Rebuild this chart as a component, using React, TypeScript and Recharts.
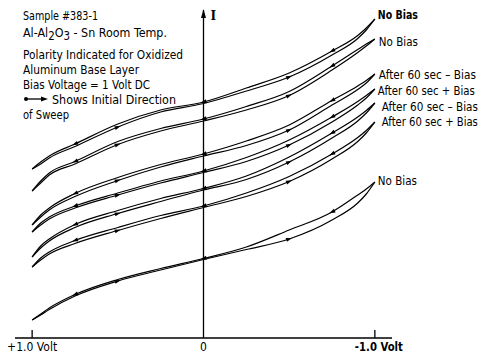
import React from 'react';
import { LineChart, Line, XAxis, YAxis, ReferenceLine } from 'recharts';

// Bias voltage (V), plotted with +1.0 V on the left
const volts = [1.0, 0.95, 0.9, 0.75, 0.5, 0.25, 0, -0.25, -0.5, -0.75, -0.9, -0.95, -1.0];

// Current (arbitrary, curves offset for display); each loop has two sweep branches
const c1a = [169, 176, 182, 194, 214, 228, 236, 250, 265, 287, 302.5, 310, 319];
const c1b = [169, 174, 180, 191.5, 211, 226, 234.5, 247, 261, 283, 299.5, 308, 319];
const c2a = [147, 157, 165, 176.5, 196.5, 209.5, 219, 231.5, 246.5, 272, 288.5, 294, 299];
const c2b = [147, 155, 163, 174, 193.5, 207, 217, 228, 242.5, 268, 285.5, 292, 299];
const c3a = [113, 123, 130, 144.5, 160.5, 173.5, 184, 197, 213, 237.5, 252, 257.5, 264];
const c3b = [113, 121, 128, 141.5, 157.5, 171, 182, 192.5, 208, 233, 248.5, 255, 264];
const c4a = [106, 115, 121, 132, 145, 157, 167, 180.5, 198, 221, 236.5, 242.5, 249];
const c4b = [106, 113, 119, 130, 143, 155, 165.5, 176.5, 193, 216, 233, 240, 249];
const c5a = [81, 92, 99, 113.5, 127.5, 139.5, 149.5, 162, 181, 205, 221, 227.5, 235];
const c5b = [81, 90, 97, 110.5, 124.5, 136.5, 148, 158.5, 176, 200, 217, 225, 235];
const c6a = [71, 80, 86, 97.5, 110.5, 122.5, 132, 145, 161.5, 184, 200.5, 207.5, 216];
const c6b = [71, 78, 84, 94.5, 107.5, 119.5, 130.5, 141.5, 156.5, 179, 196.5, 205, 216];
const c7a = [18, 24, 30, 43.5, 58.5, 69.5, 79.5, 91, 108, 126, 143, 149, 156];
const c7b = [18, 23, 28.5, 42, 57, 68, 78.5, 88.5, 99, 118, 135, 144, 156];

const curveLabels = [
  'No Bias',
  'No Bias',
  'After 60 sec \u2013 Bias',
  'After 60 sec + Bias',
  'After 60 sec \u2013 Bias',
  'After 60 sec + Bias',
  'No Bias',
];

const xTicks = [1, 0, -1];
const xTickLabels = ['+1.0 Volt', '0', '-1.0 Volt'];

const noteLines = [
  'Sample #383-1',
  'Al-Al2O3 - Sn Room Temp.',
  'Polarity Indicated for Oxidized',
  'Aluminum Base Layer',
  'Bias Voltage = 1 Volt DC',
  'Shows Initial Direction',
  'of Sweep',
];

const branches: { key: string; vals: number[]; curve: number; upper: boolean }[] = [
  { key: 'c1a', vals: c1a, curve: 0, upper: true },
  { key: 'c1b', vals: c1b, curve: 0, upper: false },
  { key: 'c2a', vals: c2a, curve: 1, upper: true },
  { key: 'c2b', vals: c2b, curve: 1, upper: false },
  { key: 'c3a', vals: c3a, curve: 2, upper: true },
  { key: 'c3b', vals: c3b, curve: 2, upper: false },
  { key: 'c4a', vals: c4a, curve: 3, upper: true },
  { key: 'c4b', vals: c4b, curve: 3, upper: false },
  { key: 'c5a', vals: c5a, curve: 4, upper: true },
  { key: 'c5b', vals: c5b, curve: 4, upper: false },
  { key: 'c6a', vals: c6a, curve: 5, upper: true },
  { key: 'c6b', vals: c6b, curve: 5, upper: false },
  { key: 'c7a', vals: c7a, curve: 6, upper: true },
  { key: 'c7b', vals: c7b, curve: 6, upper: false },
];

const data = volts.map((v, i) => {
  const row: Record<string, number> = { v };
  branches.forEach((b) => {
    row[b.key] = b.vals[i];
  });
  return row;
});

const FONT = "'DejaVu Sans Condensed', 'DejaVu Sans', sans-serif";
const W = 484;
const H = 354;
const M = { top: 10, right: 92, left: 15, bottom: 0 };
const XPX = (W - M.left - M.right) / 2.2; // px per volt (for arrow angle)

const labelOffsets: [number, number][] = [
  [3, -4], [4, 3], [4, 1], [3, 2], [7, 4], [7, 0], [3, -1],
];
const labelWidths = [40, 39, 97, 97, 96, 96, 39];
const SX = 0.75;

const arrowIdxUpper = [3, 6, 9];
const arrowIdxLower = [4, 8];

function makeDot(b: { key: string; vals: number[]; upper: boolean }) {
  return (p: any) => {
    const i = p.index;
    const list = b.upper ? arrowIdxUpper : arrowIdxLower;
    if (!list.includes(i) || p.cx == null || p.cy == null) return <g key={`d-${b.key}-${i}`} />;
    const dxp = (volts[i - 1] - volts[i + 1]) * XPX;
    const dyp = -(b.vals[i + 1] - b.vals[i - 1]);
    let ang = (Math.atan2(dyp, dxp) * 180) / Math.PI;
    if (b.upper) ang += 180;
    return (
      <polygon
        key={`d-${b.key}-${i}`}
        points="3,0 -3,-2 -3,2"
        fill="#000"
        transform={`translate(${p.cx},${p.cy}) rotate(${ang})`}
      />
    );
  };
}

function makeLabel(curve: number, bold: boolean) {
  return (p: any) => {
    if (p.index !== volts.length - 1) return <g key={`l-${curve}-${p.index}`} />;
    const [dx, dy] = labelOffsets[curve];
    return (
      <g key={`l-${curve}`} transform={`translate(${p.x + dx},${p.y + dy}) scale(${SX},1)`}>
        <text
          x={0}
          y={0}
          dominantBaseline="central"
          fontFamily={FONT}
          fontSize={12.5}
          fontWeight={bold ? 700 : 400}
          fill="#000"
          textLength={labelWidths[curve] / SX}
          lengthAdjust="spacingAndGlyphs"
        >
          {curveLabels[curve]}
        </text>
      </g>
    );
  };
}

const tickWidths = [50, 8, 48];

const XTick = (p: any) => {
  const idx = xTicks.indexOf(p.payload.value);
  const shift = idx === 2 ? 4 : 0;
  return (
    <g>
      {idx !== 1 && <line x1={p.x} x2={p.x} y1={p.y - 8} y2={p.y} stroke="#000" strokeWidth={1.3} />}
      <text
        x={p.x + shift}
        y={p.y + 9}
        textAnchor="middle"
        dominantBaseline="central"
        fontFamily={FONT}
        fontSize={12}
        fontWeight={idx === 2 ? 700 : 400}
        fill="#000"
        textLength={idx === 1 ? undefined : tickWidths[idx]}
        lengthAdjust="spacingAndGlyphs"
      >
        {xTickLabels[idx]}
      </text>
    </g>
  );
};

const AxisHead = (p: any) => {
  const vb = p.viewBox || {};
  const x = vb.x;
  const y = vb.y;
  return (
    <g>
      <polygon points={`${x},${y - 1} ${x - 2.5},${y + 8} ${x + 2.5},${y + 8}`} fill="#000" />
      <text x={x + 7} y={y + 6} dominantBaseline="central" fontFamily="'DejaVu Serif', serif" fontWeight={700} fontSize={12} fill="#000">
        I
      </text>
    </g>
  );
};

const noteWidths = [75, 144, 160, 116, 127, 124, 46];

const Notes = () => {
  const ys = [15, 32, 54, 69, 84, 99, 114];
  const common = {
    fontFamily: FONT,
    fontSize: 12.5,
    fill: '#000',
    dominantBaseline: 'central' as const,
    lengthAdjust: 'spacingAndGlyphs' as const,
  };
  return (
    <svg width={W} height={H} style={{ position: 'absolute', left: 0, top: 0, pointerEvents: 'none' }}>
      <text x={23} y={ys[0]} {...common} textLength={noteWidths[0]}>{noteLines[0]}</text>
      <text x={23} y={ys[1]} {...common} textLength={noteWidths[1]}>
        Al-Al<tspan dy={4} fontSize={11.5}>2</tspan><tspan dy={-4}>O</tspan><tspan dy={4} fontSize={11.5}>3</tspan><tspan dy={-4}> - Sn Room Temp.</tspan>
      </text>
      <text x={23} y={ys[2]} {...common} textLength={noteWidths[2]}>{noteLines[2]}</text>
      <text x={23} y={ys[3]} {...common} textLength={noteWidths[3]}>{noteLines[3]}</text>
      <text x={23} y={ys[4]} {...common} textLength={noteWidths[4]}>{noteLines[4]}</text>
      <circle cx={26} cy={ys[5]} r={2} fill="#000" />
      <line x1={26} x2={44} y1={ys[5]} y2={ys[5]} stroke="#000" strokeWidth={1.3} />
      <polygon points={`48,${ys[5]} 41,${ys[5] - 2.5} 41,${ys[5] + 2.5}`} fill="#000" />
      <text x={52} y={ys[5]} {...common} textLength={noteWidths[5]}>{noteLines[5]}</text>
      <text x={23} y={ys[6]} {...common} textLength={noteWidths[6]}>{noteLines[6]}</text>
    </svg>
  );
};

export default function App() {
  return (
    <div style={{ position: 'absolute', left: 0, top: 0, width: W, height: H, background: '#fff' }}>
      <LineChart width={W} height={H} data={data} margin={M}>
        <XAxis
          dataKey="v"
          type="number"
          domain={[-1.1, 1.1]}
          reversed
          ticks={xTicks}
          tick={<XTick />}
          tickLine={false}
          tickSize={0}
          tickMargin={0}
          height={16}
          axisLine={{ stroke: '#000', strokeWidth: 1.3 }}
          interval={0}
        />
        <YAxis hide type="number" domain={[0, 328]} />
        <ReferenceLine x={0} stroke="#000" strokeWidth={1.3} label={<AxisHead />} ifOverflow="visible" />
        {branches.map((b) => (
          <Line
            key={b.key}
            dataKey={b.key}
            type="monotone"
            stroke="#000"
            strokeWidth={1.2}
            dot={makeDot(b)}
            activeDot={false}
            isAnimationActive={false}
            label={b.upper ? makeLabel(b.curve, b.curve === 0) : false}
          />
        ))}
      </LineChart>
      <Notes />
    </div>
  );
}
